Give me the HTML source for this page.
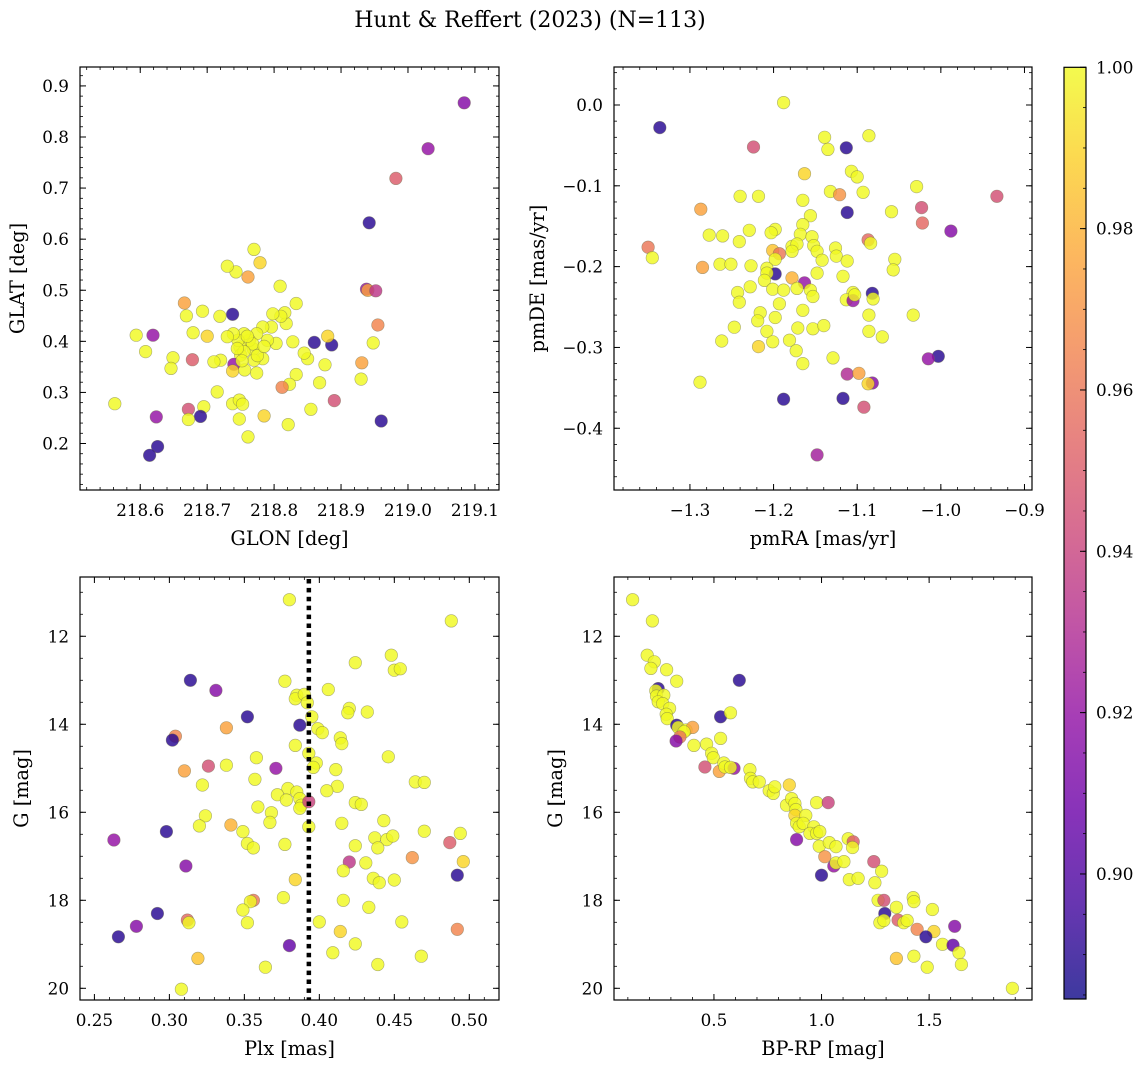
<!DOCTYPE html>
<html><head><meta charset="utf-8"><style>
body{margin:0;background:#fff}
svg text{font-family:"DejaVu Serif","Liberation Serif",serif;fill:#000}
</style></head><body>
<svg id="fig" width="1148" height="1067" viewBox="0 0 1148 1067" xmlns="http://www.w3.org/2000/svg">
<rect width="1148" height="1067" fill="#fff"/>
<text x="530" y="27" font-size="22" text-anchor="middle">Hunt &amp; Reffert (2023) (N=113)</text>
</svg>
<script>
// ---- Panel 1 data: GLON / GLAT / probability
const p1Glon=[219.084,219.03,218.982,218.942,218.938,218.94,218.952,218.955,218.948,218.931,218.93,218.96,218.89,218.886,218.86,218.88,218.876,218.868,218.855,218.85,218.845,218.833,218.828,218.833,218.821,218.823,218.812,218.818,218.816,218.81,218.809,218.798,218.796,218.803,218.79,218.783,218.783,218.785,218.779,218.77,218.761,218.743,218.73,218.774,218.769,218.77,218.763,218.755,218.749,218.75,218.756,218.774,218.746,218.739,218.73,218.738,218.74,218.738,218.72,218.71,218.719,218.70,218.693,218.679,218.678,218.669,218.666,218.715,218.738,218.748,218.753,218.748,218.761,218.695,218.69,218.672,218.672,218.649,218.646,218.608,218.594,218.619,218.624,218.626,218.614,218.562,218.768,218.755,218.775,218.752,218.785,218.76,218.745];
const p1Glat=[0.867,0.777,0.719,0.632,0.502,0.50,0.499,0.432,0.397,0.358,0.326,0.244,0.284,0.393,0.398,0.41,0.354,0.319,0.267,0.366,0.377,0.335,0.399,0.474,0.237,0.316,0.31,0.435,0.456,0.449,0.508,0.454,0.428,0.396,0.402,0.428,0.366,0.254,0.554,0.58,0.526,0.536,0.547,0.415,0.385,0.363,0.402,0.415,0.389,0.373,0.344,0.338,0.402,0.415,0.409,0.453,0.355,0.342,0.363,0.36,0.449,0.41,0.459,0.417,0.364,0.45,0.475,0.301,0.278,0.285,0.277,0.248,0.213,0.272,0.253,0.267,0.247,0.368,0.347,0.38,0.412,0.412,0.252,0.194,0.177,0.278,0.395,0.38,0.372,0.362,0.39,0.41,0.386];
const p1Prob=[0.915,0.92,0.95,0.89,0.92,0.975,0.935,0.965,1,0.975,1,0.89,0.945,0.89,0.89,0.99,1,1,1,1,1,1,1,1,1,1,0.965,1,1,1,1,1,1,1,1,1,1,0.99,0.99,1,0.975,1,1,1,1,1,1,1,1,1,1,1,1,1,1,0.89,0.92,0.99,1,1,1,0.99,1,1,0.95,1,0.975,1,1,1,1,1,1,1,0.89,0.945,1,1,1,1,1,0.92,0.92,0.89,0.89,1,1,1,1,1,1,1,1];
// ---- Panel 2 data: pmRA / pmDE / probability
const p2Pmra=[-1.188,-1.336,-1.224,-1.113,-1.139,-1.135,-1.086,-1.163,-1.107,-1.10,-1.029,-0.933,-1.132,-1.121,-1.093,-1.24,-1.218,-1.165,-1.287,-1.112,-1.023,-1.022,-1.059,-1.156,-1.165,-0.988,-1.277,-1.261,-1.229,-1.198,-1.203,-1.241,-1.168,-1.154,-1.087,-1.084,-1.35,-1.345,-1.285,-1.264,-1.251,-1.227,-1.178,-1.172,-1.178,-1.201,-1.193,-1.198,-1.152,-1.148,-1.142,-1.126,-1.125,-1.112,-1.055,-1.057,-1.208,-1.198,-1.208,-1.148,-1.117,-1.211,-1.178,-1.163,-1.172,-1.201,-1.188,-1.228,-1.243,-1.241,-1.156,-1.153,-1.105,-1.113,-1.105,-1.103,-1.082,-1.081,-1.193,-1.216,-1.219,-1.198,-1.165,-1.086,-1.033,-1.247,-1.171,-1.153,-1.14,-1.208,-1.086,-1.07,-1.262,-1.201,-1.181,-1.218,-1.173,-1.003,-1.015,-1.129,-1.165,-1.112,-1.098,-1.082,-1.087,-1.288,-1.188,-1.117,-1.092,-1.148];
const p2Pmde=[0.003,-0.028,-0.052,-0.053,-0.04,-0.055,-0.038,-0.085,-0.082,-0.089,-0.101,-0.113,-0.107,-0.111,-0.108,-0.113,-0.113,-0.118,-0.129,-0.133,-0.127,-0.146,-0.132,-0.137,-0.148,-0.156,-0.161,-0.162,-0.155,-0.154,-0.158,-0.169,-0.16,-0.163,-0.167,-0.171,-0.176,-0.189,-0.201,-0.197,-0.197,-0.199,-0.175,-0.172,-0.181,-0.18,-0.184,-0.191,-0.174,-0.181,-0.192,-0.177,-0.187,-0.193,-0.191,-0.204,-0.202,-0.209,-0.208,-0.208,-0.212,-0.217,-0.214,-0.22,-0.227,-0.228,-0.229,-0.225,-0.232,-0.244,-0.229,-0.237,-0.232,-0.241,-0.242,-0.235,-0.233,-0.24,-0.246,-0.257,-0.267,-0.263,-0.254,-0.26,-0.26,-0.275,-0.276,-0.277,-0.273,-0.28,-0.28,-0.287,-0.292,-0.293,-0.291,-0.299,-0.304,-0.311,-0.314,-0.313,-0.32,-0.333,-0.332,-0.344,-0.345,-0.343,-0.364,-0.363,-0.374,-0.433];
const p2Prob=[1,0.89,0.945,0.89,1,1,1,0.99,1,1,1,0.945,1,0.97,1,1,1,1,0.975,0.89,0.945,0.955,1,1,1,0.915,1,1,1,1,1,1,1,1,0.955,1,0.96,1,0.975,1,1,1,1,1,1,0.985,0.96,1,1,1,1,1,1,1,1,1,1,0.89,1,1,1,1,0.98,0.92,1,1,1,1,1,1,1,1,1,1,0.92,1,0.89,1,1,1,1,1,1,1,1,1,1,1,1,1,1,1,1,1,1,0.99,1,0.89,0.92,1,1,0.93,0.975,0.915,0.99,1,0.89,0.89,0.945,0.925];
// ---- Panel 3 data: Plx / G / probability
const p3Plx=[0.380,0.488,0.448,0.424,0.450,0.454,0.314,0.331,0.377,0.406,0.385,0.384,0.390,0.392,0.42,0.419,0.432,0.352,0.387,0.395,0.338,0.399,0.402,0.304,0.302,0.414,0.415,0.384,0.393,0.446,0.358,0.338,0.326,0.371,0.398,0.396,0.310,0.411,0.357,0.322,0.464,0.470,0.412,0.405,0.379,0.372,0.378,0.385,0.387,0.388,0.387,0.393,0.424,0.428,0.359,0.324,0.368,0.367,0.393,0.415,0.443,0.320,0.341,0.298,0.470,0.494,0.349,0.437,0.445,0.449,0.263,0.352,0.356,0.377,0.439,0.424,0.487,0.462,0.42,0.431,0.496,0.311,0.416,0.492,0.384,0.436,0.44,0.45,0.376,0.416,0.356,0.354,0.349,0.433,0.292,0.312,0.313,0.352,0.400,0.455,0.278,0.492,0.414,0.266,0.380,0.424,0.409,0.468,0.319,0.439,0.364,0.308];
const p3G=[11.17,11.65,12.43,12.60,12.77,12.74,13.0,13.23,13.02,13.21,13.34,13.42,13.32,13.51,13.64,13.74,13.72,13.83,14.02,13.83,14.08,14.10,14.19,14.27,14.36,14.31,14.44,14.48,14.66,14.74,14.76,14.93,14.95,15.0,14.88,14.98,15.06,15.03,15.25,15.38,15.31,15.32,15.41,15.51,15.46,15.6,15.72,15.54,15.69,15.84,15.91,15.76,15.78,15.82,15.88,16.08,16.01,16.23,16.33,16.25,16.19,16.31,16.29,16.44,16.43,16.48,16.44,16.58,16.62,16.54,16.63,16.71,16.81,16.73,16.81,16.76,16.69,17.03,17.13,17.15,17.12,17.22,17.33,17.43,17.53,17.5,17.6,17.54,17.94,18.0,18.0,18.03,18.22,18.16,18.3,18.45,18.51,18.51,18.49,18.49,18.59,18.66,18.71,18.83,19.03,18.99,19.19,19.27,19.32,19.46,19.52,20.02];
const p3Prob=[1,1,1,1,1,1,0.89,0.915,1,1,1,1,1,1,1,1,1,0.89,0.89,1,0.975,1,1,0.965,0.89,1,1,1,1,1,1,1,0.945,0.92,1,1,0.975,1,1,1,1,1,1,1,1,1,1,1,1,1,1,0.94,1,1,1,1,1,1,1,1,1,1,0.98,0.89,1,1,1,1,1,1,0.92,1,1,1,1,1,0.95,0.97,0.935,1,0.99,0.915,1,0.89,0.99,1,1,1,1,1,0.96,1,1,1,0.89,0.955,1,1,1,1,0.915,0.965,0.99,0.89,0.905,1,1,1,0.985,1,1,1];
const plxMean=0.393;
// ---- Panel 4 data: BP-RP / G / probability
const p4Bprp=[0.122,0.214,0.19,0.223,0.207,0.28,0.327,0.618,0.241,0.23,0.233,0.267,0.241,0.262,0.294,0.278,0.283,0.531,0.577,0.327,0.334,0.37,0.401,0.361,0.342,0.324,0.531,0.407,0.466,0.489,0.497,0.458,0.525,0.546,0.551,0.593,0.577,0.667,0.67,0.68,0.711,0.757,0.776,0.783,0.85,0.837,0.861,0.876,0.881,0.977,1.031,0.876,0.927,0.884,0.896,0.915,0.964,0.946,0.977,0.992,0.884,0.989,1.036,1.067,1.124,1.147,1.144,1.015,1.057,1.067,1.104,1.243,1.0,1.129,1.17,1.279,1.248,1.263,1.29,1.426,1.429,1.348,1.515,1.294,1.271,1.29,1.356,1.382,1.398,1.444,1.522,1.485,1.619,1.562,1.611,1.639,1.65,1.429,1.348,1.491,1.887];
const p4G=[11.17,11.65,12.43,12.58,12.73,12.76,13.02,13.0,13.19,13.24,13.36,13.34,13.49,13.53,13.64,13.77,13.87,13.83,13.74,14.02,14.07,14.13,14.07,14.17,14.29,14.38,14.32,14.48,14.45,14.66,14.76,14.97,15.07,14.88,14.97,15.0,14.98,15.03,15.23,15.31,15.31,15.51,15.57,15.42,15.38,15.84,15.69,15.8,15.94,15.78,15.78,16.07,16.07,16.25,16.33,16.25,16.33,16.48,16.48,16.44,16.62,16.77,16.69,16.78,16.6,16.67,16.8,17.01,17.22,17.15,17.12,17.12,17.43,17.53,17.5,17.34,17.6,18.0,18.0,17.94,18.03,18.16,18.21,18.3,18.51,18.46,18.45,18.51,18.46,18.66,18.71,18.83,18.59,19.0,19.02,19.19,19.46,19.27,19.32,19.52,20.0];
const p4Prob=[1,1,1,1,1,1,1,0.89,0.89,1,1,1,1,1,1,1,1,0.89,1,0.89,1,1,0.975,1,0.96,0.915,1,1,1,1,1,0.945,0.975,1,1,0.92,1,1,1,1,1,1,1,1,0.99,1,1,1,1,1,0.94,0.99,1,1,1,1,1,1,1,1,0.915,1,1,1,1,0.95,1,0.97,0.92,1,1,0.945,0.89,1,1,1,1,1,0.945,1,1,1,1,0.89,1,1,0.95,1,1,0.965,0.99,0.89,0.915,1,0.905,1,1,1,0.985,1,1];
// ---- tick labels
const p1XTicks=[218.6,218.7,218.8,218.9,219.0,219.1];
const p1YTicks=[0.2,0.3,0.4,0.5,0.6,0.7,0.8,0.9];
const p2XTicks=[-1.3,-1.2,-1.1,-1.0,-0.9];
const p2YTicks=[-0.4,-0.3,-0.2,-0.1,0.0];
const p3XTicks=[0.25,0.30,0.35,0.40,0.45,0.50];
const gTicks=[12,14,16,18,20];
const p4XTicks=[0.5,1.0,1.5];
const cbTicks=[0.90,0.92,0.94,0.96,0.98,1.00];
const pMin=0.8845, pMax=1.0;

const NS='http://www.w3.org/2000/svg';
const svg=document.getElementById('fig');
const TF=16.8, LF=19.3;
const plasma=[[13,8,135],[65,4,157],[106,0,168],[143,13,164],[177,42,144],[204,71,120],[225,100,98],[242,132,75],[252,166,54],[252,206,37],[240,249,33]];
function cmap(p){let t=(p-pMin)/(pMax-pMin);t=Math.max(0,Math.min(1,t))*10;const i=Math.min(9,Math.floor(t)),f=t-i;const a=plasma[i],b=plasma[i+1];return 'rgb('+a.map((v,k)=>Math.round(v+(b[k]-v)*f)).join(',')+')';}
function mk(tag,attrs,parent){const e=document.createElementNS(NS,tag);for(const k in attrs)e.setAttribute(k,attrs[k]);(parent||svg).appendChild(e);return e;}
function fmt(v,d){return v.toFixed(d).replace('-','\u2212');}

function panel(cfg,xs,ys,ps){
  const g=mk('g',{});
  
  
  const sx=v=>cfg.x0+(v-cfg.xmin)/(cfg.xmax-cfg.xmin)*(cfg.x1-cfg.x0);
  const sy=cfg.inv?(v=>cfg.y0+(v-cfg.ymin)/(cfg.ymax-cfg.ymin)*(cfg.y1-cfg.y0)):(v=>cfg.y1-(v-cfg.ymin)/(cfg.ymax-cfg.ymin)*(cfg.y1-cfg.y0));
  const pts=mk('g',{},g);
  
  
  for(let i=0;i<xs.length;i++){
    const c=mk('circle',{cx:sx(xs[i]).toFixed(1),cy:sy(ys[i]).toFixed(1),r:6.3,fill:cmap(ps[i]),'fill-opacity':0.82,stroke:'#6d6d4a','stroke-opacity':0.55,'stroke-width':0.6},pts);
    
    
  }
  if(cfg.vline!==undefined){
    const lg=mk('g',{},g);
    
    
    const X=sx(cfg.vline);
    for(let y=cfg.y0+2;y<cfg.y1;y+=8.9){
      mk('rect',{x:(X-2.25).toFixed(2),y:y.toFixed(2),width:4.5,height:Math.min(4.5,cfg.y1-y).toFixed(2),fill:'#000'},lg);
    }
  }
  const ax=mk('g',{},g);
  
  
  const eps=1e-9;
  for(let v=Math.ceil(cfg.xmin/cfg.xminor)*cfg.xminor;v<=cfg.xmax+eps;v+=cfg.xminor){const X=sx(v);mk('line',{x1:X,x2:X,y1:cfg.y1,y2:cfg.y1-3,stroke:'#000','stroke-width':0.8},ax);mk('line',{x1:X,x2:X,y1:cfg.y0,y2:cfg.y0+3,stroke:'#000','stroke-width':0.8},ax);}
  for(let v=Math.ceil(cfg.ymin/cfg.yminor)*cfg.yminor;v<=cfg.ymax+eps;v+=cfg.yminor){const Y=sy(v);mk('line',{x1:cfg.x0,x2:cfg.x0+3,y1:Y,y2:Y,stroke:'#000','stroke-width':0.8},ax);mk('line',{x1:cfg.x1,x2:cfg.x1-3,y1:Y,y2:Y,stroke:'#000','stroke-width':0.8},ax);}
  cfg.xt.forEach(v=>{const X=sx(v);mk('line',{x1:X,x2:X,y1:cfg.y1,y2:cfg.y1-6,stroke:'#000','stroke-width':1},ax);mk('line',{x1:X,x2:X,y1:cfg.y0,y2:cfg.y0+6,stroke:'#000','stroke-width':1},ax);
    const t=mk('text',{x:X,y:cfg.y1+26,'font-size':TF,'text-anchor':'middle'},ax);t.textContent=fmt(v,cfg.xd);
    
    });
  cfg.yt.forEach(v=>{const Y=sy(v);mk('line',{x1:cfg.x0,x2:cfg.x0+6,y1:Y,y2:Y,stroke:'#000','stroke-width':1},ax);mk('line',{x1:cfg.x1,x2:cfg.x1-6,y1:Y,y2:Y,stroke:'#000','stroke-width':1},ax);
    const t=mk('text',{x:cfg.x0-11,y:Y+6,'font-size':TF,'text-anchor':'end'},ax);t.textContent=fmt(v,cfg.yd);
    
    });
  mk('rect',{x:cfg.x0,y:cfg.y0,width:cfg.x1-cfg.x0,height:cfg.y1-cfg.y0,fill:'none',stroke:'#000','stroke-width':1.2},ax);
  const xl=mk('text',{x:(cfg.x0+cfg.x1)/2,y:cfg.y1+55,'font-size':LF,'text-anchor':'middle'},g);xl.textContent=cfg.xlab;
  
  
  const yx=cfg.x0-cfg.ylabOff, yy=(cfg.y0+cfg.y1)/2;
  const yl=mk('text',{x:yx,y:yy,'font-size':LF,'text-anchor':'middle',transform:`rotate(-90 ${yx} ${yy})`},g);yl.textContent=cfg.ylab;
  
  
}

panel({name:'glon-glat-panel',x0:80,x1:499,y0:67,y1:490,xmin:218.510,xmax:219.136,ymin:0.109,ymax:0.937,xminor:0.02,yminor:0.02,xt:p1XTicks,yt:p1YTicks,xd:1,yd:1,xlab:'GLON [deg]',ylab:'GLAT [deg]',ylabOff:56},p1Glon,p1Glat,p1Prob);
panel({name:'proper-motion-panel',x0:614,x1:1032,y0:67,y1:490,xmin:-1.3908,xmax:-0.891,ymin:-0.4764,ymax:0.047,xminor:0.02,yminor:0.02,xt:p2XTicks,yt:p2YTicks,xd:1,yd:1,xlab:'pmRA [mas/yr]',ylab:'pmDE [mas/yr]',ylabOff:70},p2Pmra,p2Pmde,p2Prob);
panel({name:'parallax-magnitude-panel',x0:80,x1:499,y0:577,y1:1000,xmin:0.2404,xmax:0.5198,ymin:10.653,ymax:20.266,inv:true,xminor:0.01,yminor:0.5,xt:p3XTicks,yt:gTicks,xd:2,yd:0,xlab:'Plx [mas]',ylab:'G [mag]',ylabOff:52,vline:plxMean},p3Plx,p3G,p3Prob);
panel({name:'color-magnitude-panel',x0:614,x1:1032,y0:577,y1:1000,xmin:0.0356,xmax:1.978,ymin:10.653,ymax:20.266,inv:true,xminor:0.1,yminor:0.5,xt:p4XTicks,yt:gTicks,xd:1,yd:0,xlab:'BP-RP [mag]',ylab:'G [mag]',ylabOff:52},p4Bprp,p4G,p4Prob);

// colorbar
(function(){
  const cx0=1064,cx1=1086,cy0=67.3,cy1=999;
  const g=mk('g',{});
  
  
  const defs=mk('defs',{},g);
  const lg=mk('linearGradient',{id:'cbg',x1:0,y1:1,x2:0,y2:0},defs);
  plasma.forEach((c,i)=>mk('stop',{offset:i/10,'stop-color':'rgb('+c.join(',')+')'},lg));
  mk('rect',{x:cx0,y:cy0,width:cx1-cx0,height:cy1-cy0,fill:'url(#cbg)','fill-opacity':0.8},g);
  const sy=v=>cy1-(v-pMin)/(pMax-pMin)*(cy1-cy0);
  for(let v=0.885;v<=1.0001;v+=0.005){const Y=sy(v);mk('line',{x1:cx1,x2:cx1-3,y1:Y,y2:Y,stroke:'#000','stroke-width':0.8},g);}
  cbTicks.forEach(v=>{const Y=sy(v);mk('line',{x1:cx1,x2:cx1-6,y1:Y,y2:Y,stroke:'#000','stroke-width':1},g);
    const t=mk('text',{x:cx1+10,y:Y+6,'font-size':TF},g);t.textContent=v.toFixed(2);
    
    });
  mk('rect',{x:cx0,y:cy0,width:cx1-cx0,height:cy1-cy0,fill:'none',stroke:'#000','stroke-width':1.2},g);
})();
</script>
</body></html>
